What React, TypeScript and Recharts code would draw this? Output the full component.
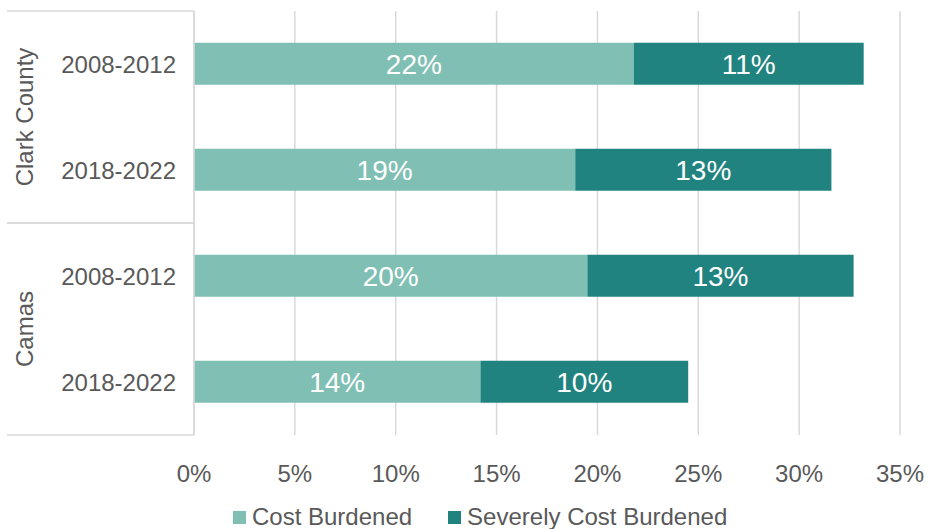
import { Bar, BarChart, CartesianGrid, LabelList, Legend, XAxis, YAxis } from "recharts";

const periods = ["2008-2012", "2018-2022", "2008-2012", "2018-2022"];
const groups = ["Clark County", "Clark County", "Camas", "Camas"];
const costBurdened = [21.8, 18.9, 19.5, 14.2];
const severelyCostBurdened = [11.4, 12.7, 13.2, 10.3];
const xTicks = [0, 5, 10, 15, 20, 25, 30, 35];

const LIGHT = "#80bfb4";
const DARK = "#218380";
const TEXT = "#595959";
const LINE = "#d9d9d9";
const FONT = "'Liberation Sans', Arial, sans-serif";

const GROUP_W = 43;
const YEAR_W = 144;

const data = periods.map((p, i) => ({
  id: `${i}`,
  period: p,
  group: groups[i],
  cost: costBurdened[i],
  severe: severelyCostBurdened[i],
}));

// group label axis sits outermost; draws the separator lines across both axes
function GroupTick(props: any) {
  const { x, y, payload } = props;
  const half = payload.offset ?? 106;
  return (
    <g>
      <line x1={x - GROUP_W} x2={x + YEAR_W} y1={y - half} y2={y - half} stroke={LINE} strokeWidth={1.5} />
      <line x1={x - GROUP_W} x2={x + YEAR_W} y1={y + half} y2={y + half} stroke={LINE} strokeWidth={1.5} />
      <text
        x={x - 26}
        y={y}
        transform={`rotate(-90, ${x - 26}, ${y})`}
        textAnchor="middle"
        dominantBaseline="central"
        fill={TEXT}
        fontSize={24}
        fontFamily={FONT}
      >
        {payload.value}
      </text>
    </g>
  );
}

function LegendBox() {
  const items = [
    { name: "Cost Burdened", color: LIGHT },
    { name: "Severely Cost Burdened", color: DARK },
  ];
  return (
    <div
      style={{
        height: 34,
        boxSizing: "border-box",
        paddingTop: 10,
        paddingLeft: 233,
        display: "flex",
        fontFamily: FONT,
        fontSize: 24,
        lineHeight: "24px",
        color: TEXT,
      }}
    >
      {items.map((it, i) => (
        <div key={it.name} style={{ display: "flex", alignItems: "center", marginRight: i === 0 ? 36 : 0 }}>
          <span style={{ width: 13, height: 13, background: it.color, marginRight: 6, display: "inline-block" }} />
          <span>{it.name}</span>
        </div>
      ))}
    </div>
  );
}

export default function App() {
  return (
    <div style={{ position: "absolute", left: 0, top: 0 }}>
      <BarChart
        width={928}
        height={529}
        data={data}
        layout="vertical"
        barCategoryGap="30%"
        margin={{ top: 11, right: 28, left: 7, bottom: 0 }}
      >
        <CartesianGrid horizontal={false} stroke={LINE} strokeWidth={1.5} yAxisId="a_year" />
        <XAxis
          type="number"
          domain={[0, 35]}
          ticks={xTicks}
          tickFormatter={(v) => `${v}%`}
          axisLine={false}
          tickLine={false}
          height={60}
          tickMargin={24}
          tick={{ fill: TEXT, fontSize: 24, fontFamily: FONT }}
        />
        <YAxis
          yAxisId="a_year"
          type="category"
          dataKey="id"
          width={YEAR_W}
          tickFormatter={(v) => periods[Number(v)]}
          axisLine={{ stroke: LINE, strokeWidth: 1.5 }}
          tickLine={false}
          tickMargin={12}
          tick={{ fill: TEXT, fontSize: 24, fontFamily: FONT }}
        />
        <YAxis
          yAxisId="b_group"
          type="category"
          dataKey="group"
          allowDuplicatedCategory={false}
          width={GROUP_W}
          axisLine={false}
          tickLine={false}
          tickSize={0}
          tickMargin={0}
          tick={<GroupTick />}
        />
        <Legend verticalAlign="bottom" wrapperStyle={{ left: 0, width: 928 }} content={<LegendBox />} />
        <Bar dataKey="cost" name="Cost Burdened" stackId="a" yAxisId="a_year" fill={LIGHT} isAnimationActive={false}>
          <LabelList
            dataKey="cost"
            position="center"
            formatter={(v: any) => `${Math.round(Number(v))}%`}
            fill="#ffffff"
            fontSize={28}
            fontFamily={FONT}
          />
        </Bar>
        <Bar dataKey="severe" name="Severely Cost Burdened" stackId="a" yAxisId="a_year" fill={DARK} isAnimationActive={false}>
          <LabelList
            dataKey="severe"
            position="center"
            formatter={(v: any) => `${Math.round(Number(v))}%`}
            fill="#ffffff"
            fontSize={28}
            fontFamily={FONT}
          />
        </Bar>
      </BarChart>
    </div>
  );
}
